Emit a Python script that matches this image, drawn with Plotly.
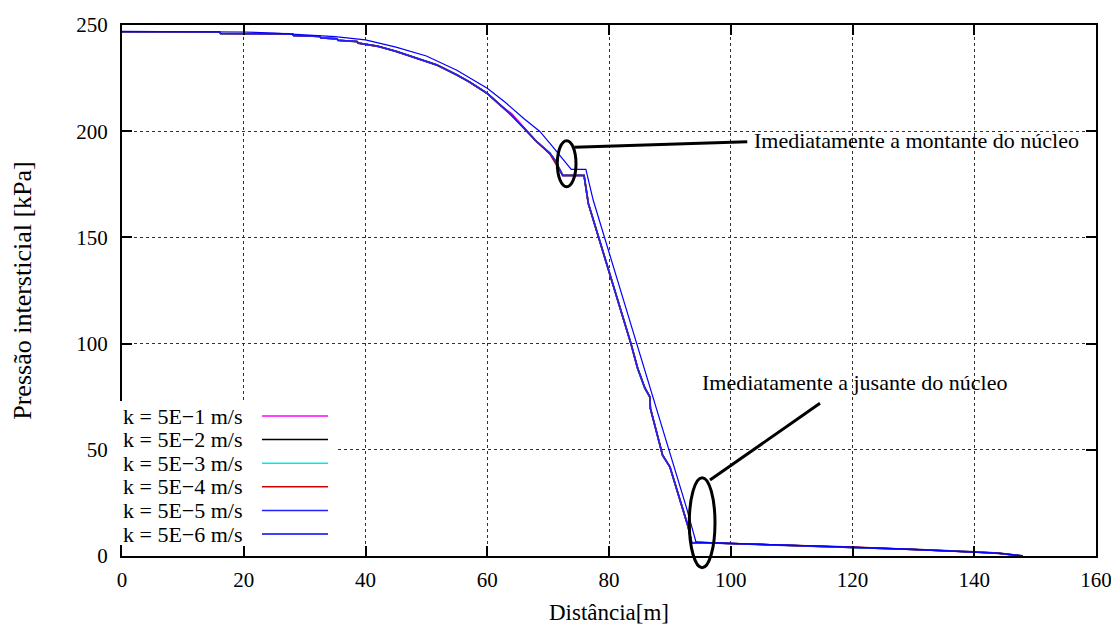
import plotly.graph_objects as go

# ---------------- data ----------------
labels = ["k = 5E\u22121 m/s", "k = 5E\u22122 m/s", "k = 5E\u22123 m/s",
          "k = 5E\u22124 m/s", "k = 5E\u22125 m/s", "k = 5E\u22126 m/s"]
colors = ["#ff00ff", "#000000", "#00e8e8", "#d00000", "#2020ff", "#0000ff"]
widths = [1.5, 1.8, 1.5, 1.5, 1.5, 1.2]

x_lo = [0, 16, 16.2, 28, 28.2, 32.5, 32.7, 35.3, 35.5, 38.6, 38.8, 42, 45, 48, 50, 51.7,
        55, 57, 60, 62.1, 64, 66.5, 68, 70.3, 71.1, 72.4, 75.9, 76.6, 83.6, 84.7, 85.9,
        86.7, 86.8, 88.8, 90.0, 93.0, 93.6, 94.3, 100, 110, 120, 130, 140, 144, 148]

y_k1 = [246.8, 246.8, 246.0, 245.8, 245.0, 244.6, 243.9, 243.5, 242.8, 242.2, 241.5, 240.0,
        237.6, 234.8, 233.0, 231.2, 226.5, 223.3, 217.8, 212.3, 208.3, 200.5, 195.4, 189.6,
        186.4, 179.2, 179.2, 166.0, 100.0, 88.4, 79.0, 75.0, 69.5, 47.5, 42.0, 13.8, 6.0,
        6.4, 5.9, 5.1, 4.2, 3.1, 1.9, 1.3, 0]
y_k2 = [246.8, 246.8, 246.0, 245.8, 245.0, 244.6, 243.9, 243.5, 242.8, 242.2, 241.5, 240.0,
        237.6, 234.8, 233.0, 231.2, 226.5, 223.3, 217.8, 212.3, 207.5, 200.0, 195.4, 189.6,
        186.4, 179.2, 179.2, 166.0, 100.0, 88.4, 79.0, 75.0, 69.5, 47.5, 42.0, 13.8, 6.0,
        6.4, 5.9, 5.1, 4.2, 3.1, 1.9, 1.3, 0]
y_k3 = [246.8, 246.8, 246.0, 245.8, 245.0, 244.6, 243.9, 243.5, 242.8, 242.2, 241.5, 240.0,
        237.6, 234.8, 233.0, 231.2, 226.5, 223.3, 217.8, 212.3, 207.5, 200.0, 195.4, 189.6,
        186.4, 179.2, 179.2, 166.0, 100.0, 88.0, 78.6, 75.0, 69.5, 47.2, 42.0, 13.8, 6.0,
        6.4, 5.9, 5.1, 4.2, 3.1, 1.9, 1.3, 0]
y_k4 = [246.8, 246.8, 246.0, 245.8, 245.0, 244.6, 243.9, 243.5, 242.8, 242.2, 241.5, 240.0,
        237.6, 234.8, 233.0, 231.2, 226.5, 223.3, 217.8, 212.3, 207.5, 200.0, 195.4, 189.2,
        185.6, 179.2, 179.2, 166.0, 100.0, 88.4, 79.0, 75.0, 69.5, 47.5, 42.0, 13.8, 6.0,
        6.4, 5.9, 5.1, 4.2, 3.1, 1.9, 1.3, 0]
y_k5 = [246.8, 246.8, 246.0, 245.8, 245.0, 244.6, 243.9, 243.5, 242.8, 242.2, 241.5, 240.0,
        237.6, 234.8, 233.0, 231.2, 226.5, 223.3, 217.8, 212.3, 207.5, 200.0, 195.4, 189.6,
        186.4, 179.2, 179.2, 166.0, 100.0, 88.4, 79.0, 75.0, 69.5, 47.5, 42.0, 13.8, 6.0,
        6.4, 5.9, 5.1, 4.2, 3.1, 1.9, 1.3, 0]

x_k6 = [0, 10, 20, 25, 30, 35, 40, 45, 50, 55, 60, 63, 66, 68.6, 70.3, 72, 73.8, 76.2,
        77.4, 92.7, 94.3, 100, 110, 120, 130, 140, 144, 148]
y_k6 = [247.0, 247.0, 246.7, 246.2, 245.5, 244.5, 243.0, 239.6, 235.4, 228.7, 220.2, 213.5,
        206.0, 200.0, 194.3, 188.3, 182.0, 182.0, 167.6, 23.0, 6.5, 5.9, 5.1, 4.2, 3.1,
        1.9, 1.3, 0]

x_ticks = [0, 20, 40, 60, 80, 100, 120, 140, 160]
y_ticks = [0, 50, 100, 150, 200, 250]

series_x = [x_lo, x_lo, x_lo, x_lo, x_lo, x_k6]
series_y = [y_k1, y_k2, y_k3, y_k4, y_k5, y_k6]

FONT = "Liberation Serif"

fig = go.Figure()
for name, c, w, xs, ys in zip(labels, colors, widths, series_x, series_y):
    fig.add_trace(go.Scatter(x=xs, y=ys, mode="lines", name=name,
                             line=dict(color=c, width=w), showlegend=False))

axis_common = dict(
    showline=True, linecolor="black", linewidth=2, mirror="ticks",
    ticks="inside", ticklen=10, tickwidth=1.5, tickcolor="black",
    showgrid=True, gridcolor="#303030", griddash="dot", gridwidth=1,
    zeroline=False, automargin=False,
    tickfont=dict(family=FONT, size=21, color="black"),
)

fig.update_xaxes(range=[0, 160], tickvals=x_ticks, ticklabelstandoff=4,
                 title=dict(text="Distância[m]", font=dict(family=FONT, size=23, color="black"),
                            standoff=13),
                 **axis_common)
fig.update_yaxes(range=[0, 250], tickvals=y_ticks, ticklabelstandoff=8,
                 title=dict(text="Pressão intersticial [kPa]",
                            font=dict(family=FONT, size=26, color="black"), standoff=38),
                 **axis_common)

# ---- legend drawn gnuplot-style (text left, sample line right) ----
# page offset of 8px (browser body margin) is compensated in the figure margins
L, W, T, H = 122, 974, 25, 531
def px(x):
    return (x - L) / W
def py(y):
    return (T + H - y) / H

shapes = [dict(type="rect", xref="paper", yref="paper", x0=px(116), x1=px(338),
               y0=py(545), y1=py(401), fillcolor="white", line=dict(width=0), layer="above")]
annotations = []
row_y = [416, 439.6, 463.2, 486.8, 510.4, 534]
for name, c, ry in zip(labels, colors, row_y):
    annotations.append(dict(xref="paper", yref="paper", x=px(121), y=py(ry), text=name,
                            showarrow=False, xanchor="left", yanchor="middle",
                            font=dict(family=FONT, size=22, color="black")))
    shapes.append(dict(type="line", xref="paper", yref="paper", x0=px(262), x1=px(328),
                       y0=py(ry), y1=py(ry), line=dict(color=c, width=1.5), layer="above"))

# ---- callouts ----
shapes += [
    dict(type="circle", xref="paper", yref="paper", x0=px(557.3), x1=px(576),
         y0=py(186.7), y1=py(140.7), line=dict(color="black", width=3), layer="above"),
    dict(type="line", xref="paper", yref="paper", x0=px(574.3), y0=py(147.3),
         x1=px(747.3), y1=py(141.7), line=dict(color="black", width=3), layer="above"),
    dict(type="circle", xref="paper", yref="paper", x0=px(689.3), x1=px(715),
         y0=py(567.7), y1=py(477.7), line=dict(color="black", width=3), layer="above"),
    dict(type="line", xref="paper", yref="paper", x0=px(710), y0=py(480),
         x1=px(820), y1=py(403.3), line=dict(color="black", width=3), layer="above"),
]
annotations += [
    dict(xref="paper", yref="paper", x=px(752), y=py(141), text="Imediatamente a montante do núcleo",
         showarrow=False, xanchor="left", yanchor="middle",
         font=dict(family=FONT, size=22, color="black")),
    dict(xref="paper", yref="paper", x=px(700), y=py(382), text="Imediatamente a jusante do núcleo",
         showarrow=False, xanchor="left", yanchor="middle",
         font=dict(family=FONT, size=22, color="black")),
]

fig.update_layout(
    width=1111, height=617,
    margin=dict(l=114, r=23, t=17, b=69, autoexpand=False),
    paper_bgcolor="white", plot_bgcolor="white",
    shapes=shapes, annotations=annotations,
    showlegend=False,
)

fig.write_html("out.html")
